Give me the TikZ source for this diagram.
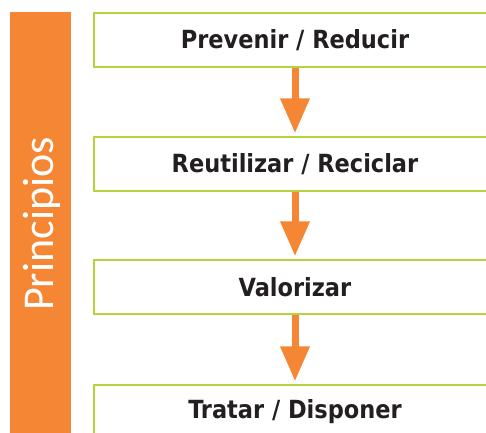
\documentclass[tikz,border=0pt]{standalone}
\usepackage{fontspec}
\usepackage{tikz}
\usetikzlibrary{arrows.meta}
\newfontfamily\sidefont{Carlito}
\newfontfamily\stagefont{DejaVu Sans Condensed Bold}
\definecolor{barorange}{RGB}{244,134,52}
\definecolor{boxgreen}{RGB}{180,212,60}
\definecolor{stagetext}{RGB}{35,31,32}
\tikzset{
	stage/.style={draw=boxgreen, line width=1.5pt, minimum width=402pt, minimum height=54pt, inner sep=0pt, text=stagetext, font=\stagefont\fontsize{25}{30}\selectfont},
	flow/.style={-{Triangle[width=28pt,length=35pt]}, line width=7pt, draw=barorange, shorten >=3pt}
}

\begin{document}
\begin{tikzpicture}[x=1pt,y=-1pt]
		\useasboundingbox (0,0) rectangle (486,432);
		\fill[barorange] (10,12) rectangle (71,440);
		\node[rotate=90, anchor=base, text=white, font=\sidefont\fontsize{44}{50}\selectfont] (side) at (53,224) {Principios};
		\node[stage] (prevenir) at (295,40) {Prevenir / Reducir};
		\node[stage] (reutilizar) at (295,164) {Reutilizar / Reciclar};
		\node[stage] (valorizar) at (295,287) {Valorizar};
		\node[stage] (tratar) at (295,412) {Tratar / Disponer};
		\draw[flow] (prevenir.south) -- (reutilizar.north);
		\draw[flow] (reutilizar.south) -- (valorizar.north);
		\draw[flow] (valorizar.south) -- (tratar.north);
	\end{tikzpicture}
\end{document}
